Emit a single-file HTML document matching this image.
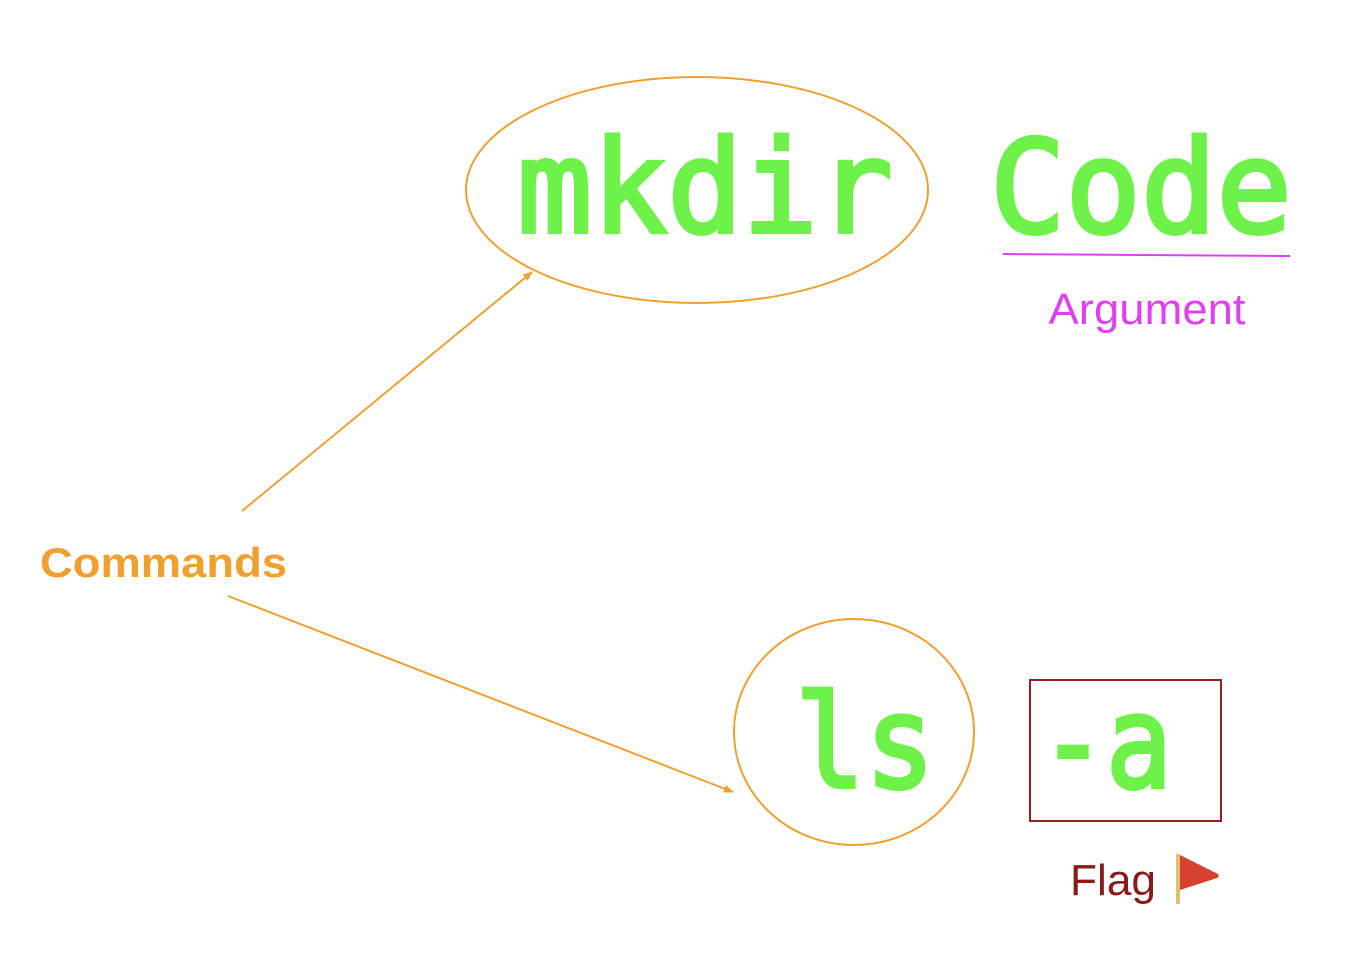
<!DOCTYPE html>
<html><head><meta charset="utf-8"><style>
html,body{margin:0;padding:0;background:#fff;}
svg{display:block;}
</style></head><body>
<svg width="1360" height="978" viewBox="0 0 1360 978" xmlns="http://www.w3.org/2000/svg">
<defs>
<marker id="ah" markerWidth="10" markerHeight="8" refX="9" refY="4" orient="auto" markerUnits="userSpaceOnUse">
<path d="M0,0 L10,4 L0,8 z" fill="#f0a030"/>
</marker>
</defs>
<ellipse cx="697" cy="190" rx="231" ry="113" fill="none" stroke="#f0a030" stroke-width="2"/>
<ellipse cx="854" cy="732" rx="120" ry="113" fill="none" stroke="#f0a030" stroke-width="2"/>
<rect x="1030" y="680" width="191" height="141" fill="none" stroke="#9a2020" stroke-width="2"/>
<g font-family="'DejaVu Sans Mono','Liberation Mono',monospace" fill="#6ef24a" stroke="#6ef24a" stroke-width="4" font-size="128">
<text x="517" y="232" textLength="376" lengthAdjust="spacingAndGlyphs">mkdir</text>
<text x="990" y="232" textLength="302" lengthAdjust="spacingAndGlyphs">Code</text>
<text x="795" y="787" textLength="140" lengthAdjust="spacingAndGlyphs">ls</text>
<text x="1040" y="787" textLength="132" lengthAdjust="spacingAndGlyphs">-a</text>
</g>
<line x1="1003" y1="254" x2="1290" y2="256" stroke="#e040f0" stroke-width="2"/>
<text x="1147" y="324" text-anchor="middle" font-family="'Liberation Sans',sans-serif" font-size="44" fill="#e040f0" textLength="197" lengthAdjust="spacingAndGlyphs">Argument</text>
<text x="40" y="577" font-family="'Liberation Sans',sans-serif" font-weight="bold" font-size="42" fill="#f0a030" textLength="247" lengthAdjust="spacingAndGlyphs">Commands</text>
<text x="1070" y="895" font-family="'Liberation Sans',sans-serif" font-size="44" fill="#8b1a1a" textLength="86" lengthAdjust="spacingAndGlyphs">Flag</text>
<rect x="1176" y="854" width="4" height="50" fill="#e0c070"/>
<path d="M1180,855 L1218,874 Q1220,876 1217,878 L1180,890 z" fill="#d84030"/>
<line x1="242" y1="511" x2="532" y2="272" stroke="#f0a030" stroke-width="2" marker-end="url(#ah)"/>
<line x1="228" y1="596" x2="733" y2="792" stroke="#f0a030" stroke-width="2" marker-end="url(#ah)"/>
</svg>
</body></html>
